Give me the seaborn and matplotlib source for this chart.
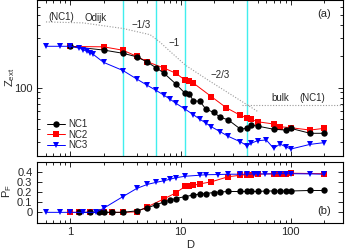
import seaborn as sns
from matplotlib import pyplot as plt
from matplotlib import ticker

# panel (a): Z_ext against D
nc1_d = [1, 2, 3, 4, 5, 6, 7, 9, 11, 12, 13, 15, 17, 20, 23, 27, 35, 40, 44, 50, 70, 90, 100, 150, 200]
nc1_z = [249, 230, 214, 198, 176, 155, 139, 109, 88, 87, 75, 73.5, 62, 57.7, 51.7, 49, 39.8, 40.6,
         43.5, 42.6, 39.7, 39, 40.5, 36.3, 36.3]

nc2_d = [1, 2, 3, 4, 5, 7, 9, 11, 12, 13, 19, 26, 35, 40, 44, 50, 70, 80, 100, 150, 200]
nc2_z = [249, 247, 229, 200, 177, 155, 138, 118, 115, 111, 82, 64, 54, 51, 49.4, 46.9, 44.6, 42.0,
         41.1, 39, 40.5]

nc3_d = [0.6, 0.8, 1, 1.2, 1.3, 1.4, 1.5, 1.6, 2, 3, 4, 5, 6, 7, 8, 9, 11, 13, 15, 17, 19, 23, 27,
         35, 40, 44, 50, 60, 70, 80, 90, 100, 150, 200]
nc3_z = [250, 250, 250, 240, 232, 224, 216, 210, 175, 146, 121, 105, 94, 85, 77.5, 71, 62, 55, 49.5,
         45.5, 42, 37.5, 34, 30, 27.6, 29.2, 30.8, 31.3, 26, 28.6, 26.9, 25.6, 28.4, 29.5]

# theory guide lines
odijk_d = [0.6, 1.3, 3, 5.3, 6.5, 8, 11.1, 17.8, 50]
odijk_z = [429, 420, 371, 323, 274, 224, 164, 118, 59]
bulk_d = [36, 300]
bulk_z = [68, 68]
cyan_d = [3, 6, 11, 40]

# panel (b): P_F against D
nc1_pf_d = [1.2, 1.5, 1.8, 2, 2.4, 3, 4, 5, 6, 7, 8, 9, 11, 13, 15, 17, 20, 23, 27, 35, 40, 44, 50,
            60, 70, 80, 90, 100, 150, 200]
nc1_pf = [0, 0, 0, 0, 0, 0, 0.015, 0.045, 0.075, 0.10, 0.12, 0.135, 0.155, 0.17, 0.18, 0.185, 0.195,
          0.2, 0.205, 0.205, 0.205, 0.205, 0.205, 0.21, 0.21, 0.21, 0.21, 0.21, 0.215, 0.215]

nc2_pf_d = [1, 1.2, 1.5, 2, 2.4, 3, 4, 5, 7, 9, 11, 12, 13, 15, 19, 27, 35, 40, 44, 50, 70, 80, 90,
            100, 200]
nc2_pf = [0, 0, 0, 0, 0, 0, 0.005, 0.055, 0.13, 0.19, 0.255, 0.26, 0.265, 0.28, 0.30, 0.35, 0.365,
          0.37, 0.37, 0.375, 0.38, 0.38, 0.38, 0.385, 0.38]

nc3_pf_d = [0.6, 0.8, 1, 1.3, 1.7, 2, 3, 4, 5, 6, 7, 8, 9, 11, 15, 17, 22, 27, 35, 40, 46, 50, 58,
            70, 80, 90, 100, 150, 200]
nc3_pf = [0, 0, 0, 0, 0, 0.04, 0.155, 0.235, 0.275, 0.295, 0.31, 0.325, 0.34, 0.355, 0.365, 0.37,
          0.372, 0.375, 0.375, 0.375, 0.378, 0.378, 0.378, 0.378, 0.38, 0.38, 0.38, 0.378, 0.375]

sns.set_style("ticks")
plt.rcParams['font.family'] = ['Liberation Sans', 'DejaVu Sans']
plt.rcParams['mathtext.fontset'] = 'custom'
plt.rcParams['mathtext.rm'] = 'Liberation Sans'
plt.rcParams['font.size'] = 8

fig = plt.figure(figsize=(3.45, 2.49), dpi=100)
ax1 = fig.add_axes([0.108, 0.3715, 0.887, 0.6265])
ax2 = fig.add_axes([0.108, 0.1064, 0.887, 0.245])

series = [
    (nc2_d, nc2_z, nc2_pf_d, nc2_pf, 'red', 's', 4.2, 'NC2', 3),
    (nc1_d, nc1_z, nc1_pf_d, nc1_pf, 'black', 'o', 4.6, 'NC1', 4),
    (nc3_d, nc3_z, nc3_pf_d, nc3_pf, 'blue', 'v', 4.2, 'NC3', 5),
]

for d, z, pd_, pf, col, mk, ms, lab, zo in series:
    sns.lineplot(x=d, y=z, ax=ax1, color=col, marker=mk, markersize=ms, markeredgewidth=0,
                 linewidth=0.7, label=lab, zorder=zo)
    sns.lineplot(x=pd_, y=pf, ax=ax2, color=col, marker=mk, markersize=ms, markeredgewidth=0,
                 linewidth=0.7, zorder=zo, legend=False)

for d in cyan_d:
    ax1.axvline(d, color='#40eeee', lw=1.0, zorder=1)

ax1.plot(odijk_d, odijk_z, color='#999999', lw=0.8, ls=(0, (1, 1.5)), zorder=2)
ax1.plot(bulk_d, bulk_z, color='#999999', lw=0.8, ls=(0, (1, 1.5)), zorder=2)

ax1.text(0.83, 480, '(NC1)', fontsize=7, ha='center', va='center')
ax1.text(1.7, 463, 'Odijk', fontsize=7, ha='center', va='center')
ax1.text(4.4, 399, '\u22121/3', fontsize=7, ha='center', va='center')
ax1.text(8.7, 266, '\u22121', fontsize=7, ha='center', va='center')
ax1.text(22.7, 132, '\u22122/3', fontsize=7, ha='center', va='center')
ax1.text(80, 78.7, 'bulk', fontsize=7, ha='center', va='center')
ax1.text(156, 78.7, '(NC1)', fontsize=7, ha='center', va='center')
ax1.text(199, 507, '(a)', fontsize=8, ha='center', va='center')
ax2.text(203, 0.01, '(b)', fontsize=8, ha='center', va='center')

for ax in (ax1, ax2):
    ax.set_xscale('log')
    ax.set_xlim(0.5, 300)
    ax.xaxis.set_major_formatter(ticker.FormatStrFormatter('%g'))
    ax.xaxis.set_minor_formatter(ticker.NullFormatter())
    ax.tick_params(which='both', direction='in', top=True, right=True, labelsize=8, width=0.7)
    ax.tick_params(which='major', length=3.5)
    ax.tick_params(which='minor', length=2)
    for sp in ax.spines.values():
        sp.set_color('black')
        sp.set_linewidth(0.8)

ax1.set_yscale('log')
ax1.set_ylim(21.7, 690)
ax1.yaxis.set_major_formatter(ticker.FormatStrFormatter('%g'))
ax1.yaxis.set_minor_formatter(ticker.NullFormatter())
ax1.tick_params(labelbottom=False)
ax1.set_ylabel(r'Z$_{\rm ext}$', fontsize=8)
ax1.yaxis.set_label_coords(-0.066, 0.51)

ax2.set_ylim(-0.1, 0.5)
ax2.set_yticks([0, 0.1, 0.2, 0.3, 0.4])
ax2.yaxis.set_major_formatter(ticker.FormatStrFormatter('%g'))
ax2.set_ylabel(r'P$_{\rm F}$', fontsize=8)
ax2.yaxis.set_label_coords(-0.077, 0.52)
ax2.set_xlabel('D', fontsize=8)
ax2.xaxis.set_label_coords(0.5, -0.29)

handles, labels = ax1.get_legend_handles_labels()
order = [labels.index(n) for n in ['NC1', 'NC2', 'NC3']]
ax1.legend([handles[i] for i in order], [labels[i] for i in order], loc='lower left',
           bbox_to_anchor=(0.031, 0.04), borderaxespad=0, borderpad=0, frameon=False,
           fontsize=7, labelspacing=0.05, handlelength=1.9, handletextpad=0.3)

fig.savefig('out.png', dpi=100)
